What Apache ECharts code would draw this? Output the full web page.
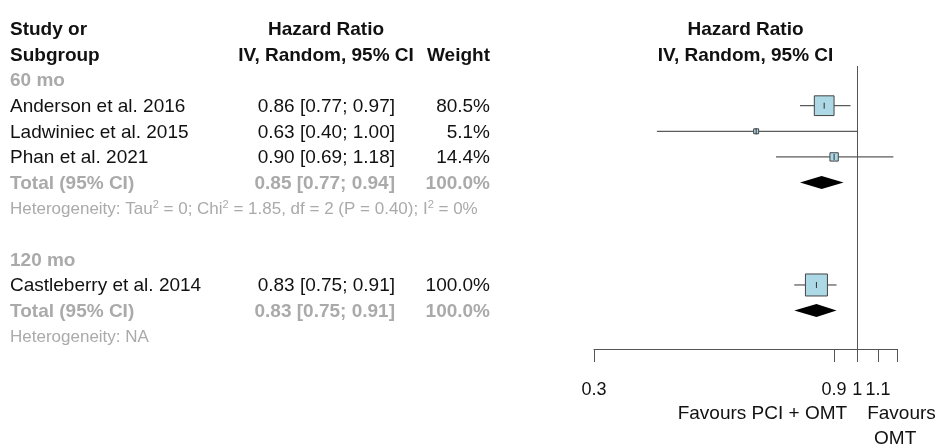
<!DOCTYPE html>
<html>
<head>
<meta charset="utf-8">
<script src="https://cdn.jsdelivr.net/npm/echarts@6/dist/echarts.min.js"></script>
<style>
  html, body { margin: 0; padding: 0; background: #fff; }
  #chart { width: 945px; height: 446px; }
</style>
</head>
<body>
<div id="chart"></div>
<script>
// studies
const studies = ['Anderson et al. 2016', 'Ladwiniec et al. 2015', 'Phan et al. 2021', 'Castleberry et al. 2014'];
const studyRows = [1, 2, 3, 8];
const hr = [0.86, 0.63, 0.90, 0.83];
const lower = [0.77, 0.40, 0.69, 0.75];
const upper = [0.97, 1.00, 1.18, 0.91];
const weights = [80.5, 5.1, 14.4, 100.0];

// subgroups
const subgroups = ['60 mo', '120 mo'];
const subgroupRows = [0, 7];
const totalRows = [4, 9];
const totalHr = [0.85, 0.83];
const totalLower = [0.77, 0.75];
const totalUpper = [0.94, 0.91];
const totalWeight = [100.0, 100.0];
const hetRows = [5, 10];
const hetText = [
  'Heterogeneity: Tau{sup|2} = 0; Chi{sup|2} = 1.85, df = 2 (P = 0.40); I{sup|2} = 0%',
  'Heterogeneity: NA'
];

// x axis
const tickValues = [0.3, 0.9, 1, 1.1, 1.2];
const tickLabels = [0.3, 0.9, 1, 1.1];

const FONT = '"Liberation Sans", Arial, Helvetica, sans-serif';
const GRAY = '#aaaaaa';
const fmt = v => v.toFixed(2);
const ciText = (h, l, u) => fmt(h) + ' [' + fmt(l) + '; ' + fmt(u) + ']';

// text table rows (column key, row, text, style)
const texts = [];
function addText(col, row, text, opt) { texts.push(Object.assign({ col: col, row: row, text: text }, opt || {})); }
addText('study', -2, 'Study or', { bold: true });
addText('study', -1, 'Subgroup', { bold: true });
addText('ciC', -2, 'Hazard Ratio', { bold: true });
addText('ciC', -1, 'IV, Random, 95% CI', { bold: true });
addText('weight', -1, 'Weight', { bold: true });
addText('plot', -2, 'Hazard Ratio', { bold: true });
addText('plot', -1, 'IV, Random, 95% CI', { bold: true });
for (let g = 0; g < subgroups.length; g++) {
  addText('study', subgroupRows[g], subgroups[g], { bold: true, color: GRAY });
  addText('study', totalRows[g], 'Total (95% CI)', { bold: true, color: GRAY });
  addText('ci', totalRows[g], ciText(totalHr[g], totalLower[g], totalUpper[g]), { bold: true, color: GRAY });
  addText('weight', totalRows[g], totalWeight[g].toFixed(1) + '%', { bold: true, color: GRAY });
  addText('study', hetRows[g], hetText[g], { color: GRAY, size: 17 });
}
for (let i = 0; i < studies.length; i++) {
  addText('study', studyRows[i], studies[i]);
  addText('ci', studyRows[i], ciText(hr[i], lower[i], upper[i]));
  addText('weight', studyRows[i], weights[i].toFixed(1) + '%');
}
addText('favL', 13, 'Favours PCI + OMT');
addText('favR', 13, 'Favours');
addText('favR2', 13.95, 'OMT');

const studyData = studies.map((s, i) => [hr[i], studyRows[i], lower[i], upper[i], weights[i]]);
const totalData = subgroups.map((s, g) => [totalHr[g], totalRows[g], totalLower[g], totalUpper[g]]);

const chart = echarts.init(document.getElementById('chart'));

const option = {
  animation: false,
  grid: { left: 594, right: 48, top: 66, bottom: 97 },
  xAxis: {
    type: 'log',
    logBase: 10,
    min: 0.3,
    max: 1.2,
    position: 'bottom',
    splitLine: { show: false },
    axisLine: { show: true, onZero: false, lineStyle: { color: '#555', width: 1 } },
    axisTick: { show: true, length: 13, customValues: tickValues, lineStyle: { color: '#555', width: 1 } },
    axisLabel: {
      customValues: tickLabels,
      margin: 32,
      color: '#111',
      fontSize: 18,
      fontFamily: FONT,
      formatter: v => String(+(+v).toFixed(2))
    }
  },
  yAxis: {
    type: 'value',
    inverse: true,
    min: -0.55,
    max: 10.5,
    show: false
  },
  series: [
    {
      // study estimates: CI line, weighted square, estimate tick
      type: 'custom',
      clip: false,
      silent: true,
      data: studyData,
      encode: { x: 0, y: 1 },
      renderItem: function (params, api) {
        const p = api.coord([api.value(0), api.value(1)]);
        const l = api.coord([api.value(2), api.value(1)]);
        const u = api.coord([api.value(3), api.value(1)]);
        const size = 22 * Math.sqrt(api.value(4) / 100);
        return {
          type: 'group',
          children: [
            { type: 'line', shape: { x1: l[0], y1: p[1], x2: u[0], y2: p[1] }, style: { stroke: '#333', lineWidth: 1 } },
            { type: 'rect', shape: { x: p[0] - size / 2, y: p[1] - size / 2, width: size, height: size },
              style: { fill: '#add8e6', stroke: '#444', lineWidth: 1 } },
            { type: 'line', shape: { x1: p[0], y1: p[1] - 3, x2: p[0], y2: p[1] + 3 }, style: { stroke: '#333', lineWidth: 1 } }
          ]
        };
      }
    },
    {
      // pooled diamonds
      type: 'custom',
      clip: false,
      silent: true,
      data: totalData,
      encode: { x: 0, y: 1 },
      renderItem: function (params, api) {
        const p = api.coord([api.value(0), api.value(1)]);
        const l = api.coord([api.value(2), api.value(1)]);
        const u = api.coord([api.value(3), api.value(1)]);
        return {
          type: 'polygon',
          shape: { points: [[l[0], p[1]], [p[0], p[1] - 6.5], [u[0], p[1]], [p[0], p[1] + 6.5]] },
          style: { fill: '#000' }
        };
      }
    },
    {
      // null line at HR = 1
      type: 'line',
      data: [],
      markLine: {
        silent: true,
        symbol: 'none',
        label: { show: false },
        lineStyle: { color: '#555', width: 1, type: 'solid' },
        data: [{ xAxis: 1 }]
      }
    },
    {
      // table text
      type: 'custom',
      clip: false,
      silent: true,
      data: [[1, 0]],
      encode: { x: 0, y: 1 },
      renderItem: function (params, api) {
        const left = api.coord([0.3, 0])[0];
        const right = api.coord([1.2, 0])[0];
        const one = api.coord([1, 0])[0];
        const cols = {
          study: [10, 'left'],
          ciC: [326, 'center'],
          ci: [395, 'right'],
          weight: [490, 'right'],
          plot: [(left + right) / 2, 'center'],
          favL: [one - 10, 'right'],
          favR: [one + 10, 'left'],
          favR2: [one + 38, 'center']
        };
        return {
          type: 'group',
          children: texts.map(t => ({
            type: 'text',
            x: cols[t.col][0],
            y: api.coord([1, t.row])[1] + 1,
            style: {
              text: t.text,
              align: cols[t.col][1],
              verticalAlign: 'middle',
              fill: t.color || '#111',
              fontFamily: FONT,
              fontSize: t.size || 19,
              fontWeight: t.bold ? 'bold' : 'normal',
              rich: {
                sup: { fontSize: 11, fontFamily: FONT, fill: t.color || '#111', padding: [0, 0, 9, 0] }
              }
            }
          }))
        };
      }
    }
  ]
};

chart.setOption(option);
</script>
</body>
</html>
